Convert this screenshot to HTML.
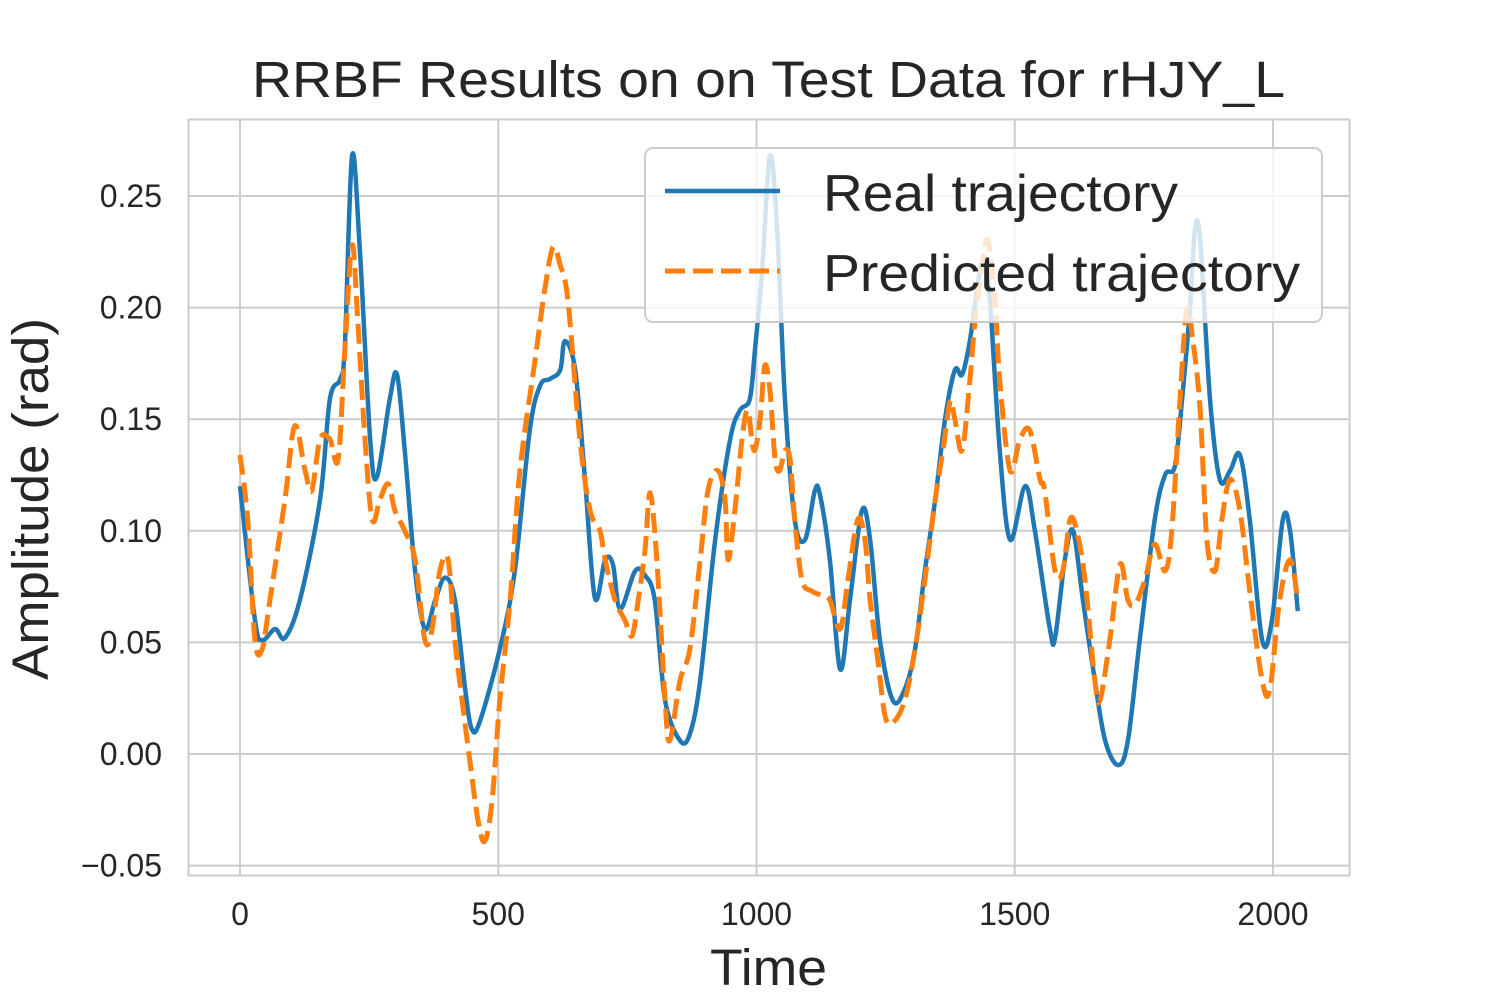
<!DOCTYPE html>
<html>
<head>
<meta charset="utf-8">
<style>
  html, body { margin: 0; padding: 0; background: #ffffff; }
  svg text { font-family: "Liberation Sans", "DejaVu Sans", sans-serif; fill: #262626; }
</style>
</head>
<body>
<svg id="chart" width="1500" height="1000" viewBox="0 0 1500 1000" xmlns="http://www.w3.org/2000/svg">
  <rect x="0" y="0" width="1500" height="1000" fill="#ffffff"/>
  <text x="252" y="97" font-size="51" textLength="1033" lengthAdjust="spacingAndGlyphs">RRBF Results on on Test Data for rHJY_L</text>
  <g id="grid"></g>
  <rect x="188.5" y="119.5" width="1161" height="756" fill="none" stroke="#cccccc" stroke-width="2"/>
  <g id="xticks"></g>
  <g id="yticks"></g>
  <g id="series"></g>
  <text x="710" y="985" font-size="51" textLength="117" lengthAdjust="spacingAndGlyphs">Time</text>
  <text x="0" y="0" font-size="51" textLength="362" lengthAdjust="spacingAndGlyphs" transform="translate(48,680) rotate(-90)">Amplitude (rad)</text>
  <g>
    <rect x="645" y="148" width="677" height="174" rx="8" ry="8" fill="#ffffff" fill-opacity="0.8" stroke="#cccccc" stroke-width="2"/>
    <line x1="665" y1="191" x2="780" y2="191" stroke="#1f77b4" stroke-width="4.5"/>
    <text x="823" y="211" font-size="52" textLength="355" lengthAdjust="spacingAndGlyphs">Real trajectory</text>
    <line x1="665" y1="271" x2="780" y2="271" stroke="#ff7f0e" stroke-width="5" stroke-dasharray="20,8"/>
    <text x="823" y="291" font-size="52" textLength="477" lengthAdjust="spacingAndGlyphs">Predicted trajectory</text>
  </g>
</svg>
<script>
const xTicks = [0, 500, 1000, 1500, 2000];
const yTicks = [-0.05, 0.00, 0.05, 0.10, 0.15, 0.20, 0.25];
const yTickLabels = ["\u22120.05", "0.00", "0.05", "0.10", "0.15", "0.20", "0.25"];

const realT = [0,29,43,68,87,116,155,174,194,203,217,232,252,265,290,304,319,339,358,378,397,416,436,449,465,503,532,561,581,600,620,629,649,668,687,707,722,736,765,784,803,823,852,871,891,920,949,968,987,997,1011,1026,1040,1055,1074,1094,1113,1123,1142,1162,1181,1204,1220,1239,1264,1287,1307,1326,1346,1365,1384,1398,1413,1433,1442,1452,1471,1491,1520,1539,1568,1578,1597,1613,1632,1655,1675,1700,1719,1742,1771,1791,1810,1824,1839,1849,1859,1878,1897,1917,1936,1955,1979,1998,2019,2033,2048];
const realV = [0.120,0.060,0.051,0.056,0.052,0.069,0.114,0.159,0.168,0.183,0.268,0.226,0.141,0.124,0.159,0.170,0.136,0.082,0.056,0.069,0.079,0.069,0.029,0.011,0.015,0.047,0.082,0.145,0.165,0.168,0.172,0.185,0.172,0.123,0.070,0.087,0.085,0.065,0.082,0.080,0.069,0.024,0.006,0.009,0.033,0.096,0.141,0.154,0.159,0.181,0.217,0.268,0.235,0.159,0.105,0.096,0.118,0.116,0.087,0.038,0.069,0.109,0.096,0.051,0.024,0.029,0.047,0.082,0.114,0.150,0.172,0.170,0.185,0.217,0.219,0.203,0.136,0.096,0.120,0.100,0.056,0.052,0.087,0.100,0.069,0.033,0.006,-0.005,0.006,0.051,0.105,0.125,0.129,0.159,0.199,0.235,0.230,0.159,0.123,0.127,0.134,0.105,0.051,0.060,0.105,0.100,0.064];

const predT = [0,15,29,43,58,87,106,126,139,155,174,190,203,217,228,242,256,271,287,300,319,339,358,372,387,403,416,430,445,461,474,488,503,523,542,571,590,606,620,635,658,678,697,707,726,745,759,771,784,794,807,823,832,852,871,891,906,925,939,945,958,972,983,995,1007,1016,1026,1036,1045,1055,1065,1074,1088,1107,1127,1142,1162,1177,1196,1210,1220,1235,1249,1264,1287,1307,1326,1346,1361,1375,1384,1398,1413,1423,1437,1448,1462,1471,1491,1510,1529,1549,1558,1578,1593,1607,1620,1636,1655,1665,1684,1704,1719,1733,1752,1771,1791,1804,1820,1833,1845,1859,1872,1888,1901,1917,1936,1955,1979,1994,2013,2033,2048];
const predV = [0.134,0.105,0.051,0.047,0.069,0.114,0.147,0.127,0.118,0.141,0.141,0.132,0.181,0.228,0.194,0.141,0.105,0.114,0.121,0.109,0.100,0.087,0.051,0.056,0.082,0.087,0.051,0.024,-0.003,-0.030,-0.039,-0.021,0.024,0.069,0.127,0.176,0.208,0.227,0.219,0.203,0.141,0.109,0.100,0.087,0.069,0.060,0.053,0.069,0.091,0.117,0.087,0.024,0.006,0.033,0.047,0.087,0.118,0.127,0.114,0.087,0.109,0.141,0.154,0.136,0.150,0.174,0.163,0.132,0.127,0.136,0.132,0.105,0.078,0.073,0.071,0.069,0.056,0.078,0.105,0.096,0.069,0.042,0.017,0.014,0.024,0.047,0.078,0.114,0.136,0.158,0.150,0.136,0.167,0.194,0.219,0.230,0.203,0.167,0.127,0.141,0.145,0.123,0.118,0.082,0.082,0.105,0.100,0.078,0.033,0.024,0.051,0.085,0.069,0.067,0.078,0.094,0.082,0.100,0.159,0.199,0.185,0.154,0.096,0.082,0.105,0.123,0.109,0.073,0.033,0.029,0.069,0.087,0.069];

const NS = "http://www.w3.org/2000/svg";
const PL = 188, PR = 1350, PT = 119, PB = 875;
function xScale(t) { return 240 + t * (1273 - 240) / 2000; }
function yScale(v) { return 754 - v * 2232; }

const grid = document.getElementById('grid');
const xg = document.getElementById('xticks');
const yg = document.getElementById('yticks');

xTicks.forEach(function (t) {
  const x = xScale(t);
  const l = document.createElementNS(NS, 'line');
  l.setAttribute('x1', x); l.setAttribute('x2', x);
  l.setAttribute('y1', PT); l.setAttribute('y2', PB);
  l.setAttribute('stroke', '#cccccc'); l.setAttribute('stroke-width', '2');
  
  
  grid.appendChild(l);
  const tx = document.createElementNS(NS, 'text');
  tx.setAttribute('x', x); tx.setAttribute('y', 925);
  tx.setAttribute('font-size', '32'); tx.setAttribute('text-anchor', 'middle');
  tx.textContent = String(t);
  
  
  xg.appendChild(tx);
});

yTicks.forEach(function (v, i) {
  const y = yScale(v);
  const l = document.createElementNS(NS, 'line');
  l.setAttribute('x1', PL); l.setAttribute('x2', PR);
  l.setAttribute('y1', y); l.setAttribute('y2', y);
  l.setAttribute('stroke', '#cccccc'); l.setAttribute('stroke-width', '2');
  
  
  grid.appendChild(l);
  const tx = document.createElementNS(NS, 'text');
  tx.setAttribute('x', 162); tx.setAttribute('y', y + 11);
  tx.setAttribute('font-size', '32'); tx.setAttribute('text-anchor', 'end');
  tx.textContent = yTickLabels[i];
  
  
  yg.appendChild(tx);
});

function smoothPath(ts, vs) {
  const p = ts.map(function (t, i) { return [xScale(t), yScale(vs[i])]; });
  let d = 'M' + p[0][0].toFixed(2) + ',' + p[0][1].toFixed(2);
  for (let i = 0; i < p.length - 1; i++) {
    const p0 = p[Math.max(0, i - 1)], p1 = p[i], p2 = p[i + 1], p3 = p[Math.min(p.length - 1, i + 2)];
    const c1x = p1[0] + (p2[0] - p0[0]) / 6, c1y = p1[1] + (p2[1] - p0[1]) / 6;
    const c2x = p2[0] - (p3[0] - p1[0]) / 6, c2y = p2[1] - (p3[1] - p1[1]) / 6;
    d += ' C' + c1x.toFixed(2) + ',' + c1y.toFixed(2) + ' ' + c2x.toFixed(2) + ',' + c2y.toFixed(2) + ' ' + p2[0].toFixed(2) + ',' + p2[1].toFixed(2);
  }
  return d;
}

const series = document.getElementById('series');
const realPath = document.createElementNS(NS, 'path');
realPath.setAttribute('d', smoothPath(realT, realV));
realPath.setAttribute('fill', 'none');
realPath.setAttribute('stroke', '#1f77b4');
realPath.setAttribute('stroke-width', '4.5');
realPath.setAttribute('stroke-linejoin', 'round');


series.appendChild(realPath);

const predPath = document.createElementNS(NS, 'path');
predPath.setAttribute('d', smoothPath(predT, predV));
predPath.setAttribute('fill', 'none');
predPath.setAttribute('stroke', '#ff7f0e');
predPath.setAttribute('stroke-width', '5');
predPath.setAttribute('stroke-dasharray', '20,8');
predPath.setAttribute('stroke-linejoin', 'round');


series.appendChild(predPath);
</script>
</body>
</html>
